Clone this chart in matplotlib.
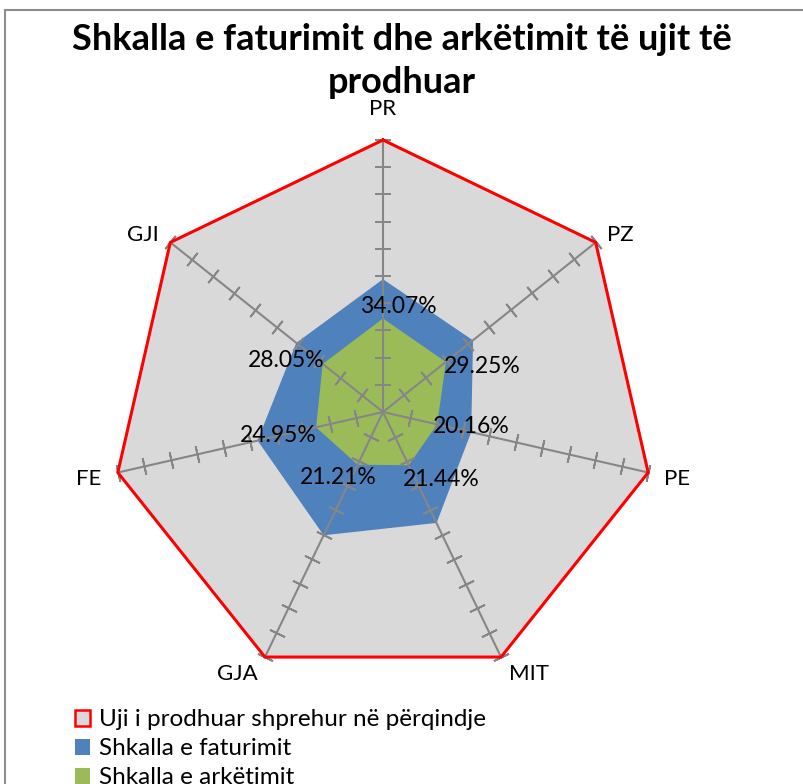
import numpy as np
import matplotlib.pyplot as plt
from matplotlib.patches import Patch, Rectangle

plt.rcParams['font.family'] = ['Lato', 'DejaVu Sans']

# data
categories = ['PR', 'PZ', 'PE', 'MIT', 'GJA', 'FE', 'GJI']
produced = [100, 100, 100, 100, 100, 100, 100]
faturimi = [48.5, 42.0, 33.0, 45.0, 50.0, 47.0, 40.5]
arketimi = [34.07, 29.25, 20.16, 21.44, 21.21, 24.95, 28.05]
label_texts = ['34.07%', '29.25%', '20.16%', '21.44%', '21.21%', '24.95%', '28.05%']
ticks = np.arange(0, 101, 10)

# label offsets in points (dx, dy)
label_offsets = [(11, 9), (27, -3), (25, -2), (24, -11), (-14, -10), (-28, -6), (-27, 3)]
cat_offsets = [(0, 22), (18, 5), (21, -5), (20, -12), (-20, -12), (-21, -5), (-20, 5)]

n = len(categories)
angles = np.linspace(0, 2 * np.pi, n, endpoint=False)

def closed(vals):
    return np.append(angles, angles[0]), np.append(vals, vals[0])

fig = plt.figure(figsize=(8.04, 7.84), dpi=100)
fig.patches.append(Rectangle((5 / 804, -0.1), 1.1, 1.1 - 10 / 784, transform=fig.transFigure,
                             fill=False, edgecolor='#8c8c8c', linewidth=1.5))

ax = fig.add_axes([(383 - 272) / 804, (784 - 412 - 272) / 784, 544 / 804, 544 / 784], projection='polar')
ax.set_theta_zero_location('N')
ax.set_theta_direction(-1)
ax.set_ylim(0, 100)
ax.grid(False)
ax.set_xticks([])
ax.set_yticks([])
ax.spines['polar'].set_visible(False)
ax.patch.set_visible(False)

t, v = closed(produced)
ax.fill(t, v, color='#d9d9d9', zorder=1, clip_on=False)
ax.plot(t, v, color='#ff0000', linewidth=2.2, zorder=5, clip_on=False)
t, v = closed(faturimi)
ax.fill(t, v, color='#4f81bd', zorder=2)
t, v = closed(arketimi)
ax.fill(t, v, color='#9bbb59', zorder=3)

# axis lines with tick marks
for a in angles:
    ax.plot([a, a], [0, 100], color='#868686', linewidth=1.5, zorder=4, clip_on=False)
    rot = 90 - np.degrees(a)
    ax.plot([a] * len(ticks[1:]), ticks[1:], linestyle='none', marker=(2, 2, rot),
            markersize=12, markeredgecolor='#868686', markeredgewidth=1.3, zorder=4, clip_on=False)

for a, val, txt, off in zip(angles, arketimi, label_texts, label_offsets):
    ax.annotate(txt, (a, val), xytext=off, textcoords='offset points',
                ha='center', va='center', fontsize=16.5, zorder=6)

for a, cat, off in zip(angles, categories, cat_offsets):
    ax.annotate(cat, (a, 100), xytext=off, textcoords='offset points',
                ha='center', va='center', fontsize=16, annotation_clip=False)

fig.text(0.5, 1 - 61 / 784, 'Shkalla e faturimit dhe arkëtimit të ujit të\nprodhuar',
         ha='center', va='center', fontsize=26, fontweight='bold', linespacing=1.35)

handles = [Patch(facecolor='#d9d9d9', edgecolor='#ff0000', linewidth=1.8),
           Patch(facecolor='#4f81bd'),
           Patch(facecolor='#9bbb59')]
fig.legend(handles, ['Uji i prodhuar shprehur në përqindje', 'Shkalla e faturimit', 'Shkalla e arkëtimit'],
           loc='upper left', bbox_to_anchor=(56 / 804, 1 - 690 / 784), frameon=False, fontsize=17.5,
           handlelength=0.6, handleheight=0.6, handletextpad=0.35, labelspacing=0.33, borderpad=0.3)

fig.savefig('out.png', dpi=100)
